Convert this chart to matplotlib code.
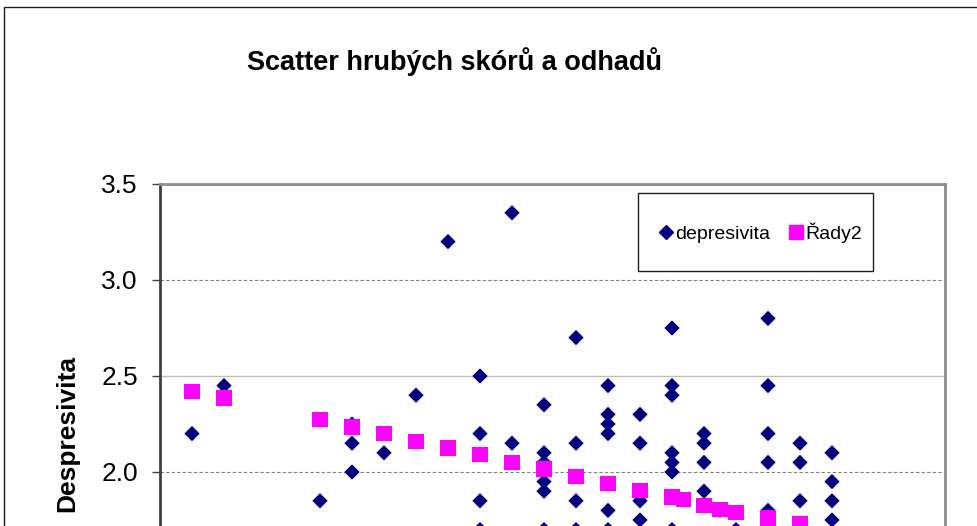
import matplotlib
matplotlib.use("Agg")
import matplotlib.pyplot as plt
from matplotlib.patches import Rectangle
from matplotlib.lines import Line2D

# ---- data ----
dep_x = [1, 2, 5, 6, 6, 6, 7, 8, 9,
         10, 10, 10, 10, 11, 11,
         12, 12, 12, 12, 12, 12,
         13, 13, 13, 13,
         14, 14, 14, 14, 14, 14,
         15, 15, 15, 15,
         16, 16, 16, 16, 16, 16, 16,
         17, 17, 17, 17, 17.5, 18,
         19, 19, 19, 19, 19,
         20, 20, 20,
         21, 21, 21, 21]
dep_y = [2.20, 2.45, 1.85, 2.25, 2.15, 2.00, 2.10, 2.40, 3.20,
         2.50, 2.20, 1.85, 1.70, 3.35, 2.15,
         2.35, 2.10, 2.05, 1.95, 1.90, 1.70,
         2.70, 2.15, 1.85, 1.70,
         2.45, 2.30, 2.25, 2.20, 1.80, 1.70,
         2.30, 2.15, 1.85, 1.75,
         2.75, 2.45, 2.40, 2.10, 2.05, 2.00, 1.70,
         2.20, 2.15, 2.05, 1.90, 1.80, 1.70,
         2.80, 2.45, 2.20, 2.05, 1.80,
         2.15, 2.05, 1.85,
         2.10, 1.95, 1.85, 1.75]

est_x = [1, 2, 5, 6, 7, 8, 9, 10, 11, 12, 13, 14, 15, 16, 16.35, 17, 17.5, 18, 19, 20]
est_y = [2.42, 2.385, 2.275, 2.235, 2.20, 2.16, 2.125, 2.09, 2.05, 2.015,
         1.975, 1.94, 1.905, 1.87, 1.855, 1.825, 1.805, 1.79, 1.76, 1.73]

y_ticks = [2.0, 2.5, 3.0, 3.5]
y_tick_labels = ["2.0", "2.5", "3.0", "3.5"]

title = "Scatter hrubých skórů a odhadů"
y_label = "Despresivita"
series_names = ["depresivita", "Řady2"]

# ---- figure ----
W, H = 978, 526
fig = plt.figure(figsize=(W / 100, H / 100), dpi=100)
plt.rcParams['font.family'] = ['Liberation Sans', 'DejaVu Sans']

# outer chart frame
fig.patches.append(Rectangle((4 / W, -0.5), 2.0, 1.5 - 7 / H, transform=fig.transFigure,
                             fill=False, edgecolor='#202020', linewidth=1.0, zorder=0))

left_px, right_px, top_px = 160, 945, 184
ymin, ymax = 1.0, 3.5
px_per_unit = 192
bottom_px = top_px + (ymax - ymin) * px_per_unit
ax = fig.add_axes([left_px / W, 1 - bottom_px / H, (right_px - left_px) / W,
                   (bottom_px - top_px) / H])
ax.set_xlim(0, (right_px - left_px) / 32.0)
ax.set_ylim(ymin, ymax)

# gridlines
for t in y_ticks:
    if abs(t - round(t)) < 1e-9:
        ax.axhline(t, color='#808080', linewidth=0.8, linestyle=(0, (3, 2)), zorder=1)
    else:
        ax.axhline(t, color='#C0C0C0', linewidth=1.0, linestyle='-', zorder=1)

ax.scatter(dep_x, dep_y, marker='D', s=7.8 ** 2, color='#000080', edgecolors='none',
           zorder=3, label=series_names[0], clip_on=True)
ax.scatter(est_x, est_y, marker='s', s=11.0 ** 2, color='#FF00FF', edgecolors='none',
           zorder=4, label=series_names[1], clip_on=True)

# spines
for s in ['top', 'right']:
    ax.spines[s].set_color('#8C8C8C')
    ax.spines[s].set_linewidth(2.0)
ax.spines['left'].set_color('#404040')
ax.spines['left'].set_linewidth(2.0)
ax.spines['bottom'].set_visible(False)

ax.set_yticks(y_ticks)
ax.set_yticklabels(y_tick_labels)
ax.tick_params(axis='y', direction='out', length=6, width=1, color='#404040',
               labelsize=19, pad=10)
ax.set_xticks([])

# legend (frame drawn separately)
frame = Rectangle((638 / W, 1 - 271 / H), (873 - 638) / W, (271 - 193) / H,
                  transform=fig.transFigure, fill=True, facecolor='white',
                  edgecolor='#202020', linewidth=1.0, zorder=5)
fig.patches.append(frame)
handles = [Line2D([], [], marker='D', color='#000080', linestyle='none', markersize=7.5),
           Line2D([], [], marker='s', color='#FF00FF', linestyle='none', markersize=10)]
leg = fig.legend(handles, series_names, loc='center', bbox_to_anchor=(761 / W, 1 - 233 / H),
                 ncol=2, frameon=False, fontsize=14, handlelength=0.6, handletextpad=0.2,
                 columnspacing=1.0, borderpad=0)
leg.set_zorder(6)

fig.text(455 / W, 1 - 62 / H, title, ha='center', va='center', fontsize=19.5,
         fontweight='bold')
fig.text(67 / W, 1 - 433 / H, y_label, ha='center', va='center', rotation=90,
         fontsize=19, fontweight='bold')

fig.savefig('out.png', dpi=100)
